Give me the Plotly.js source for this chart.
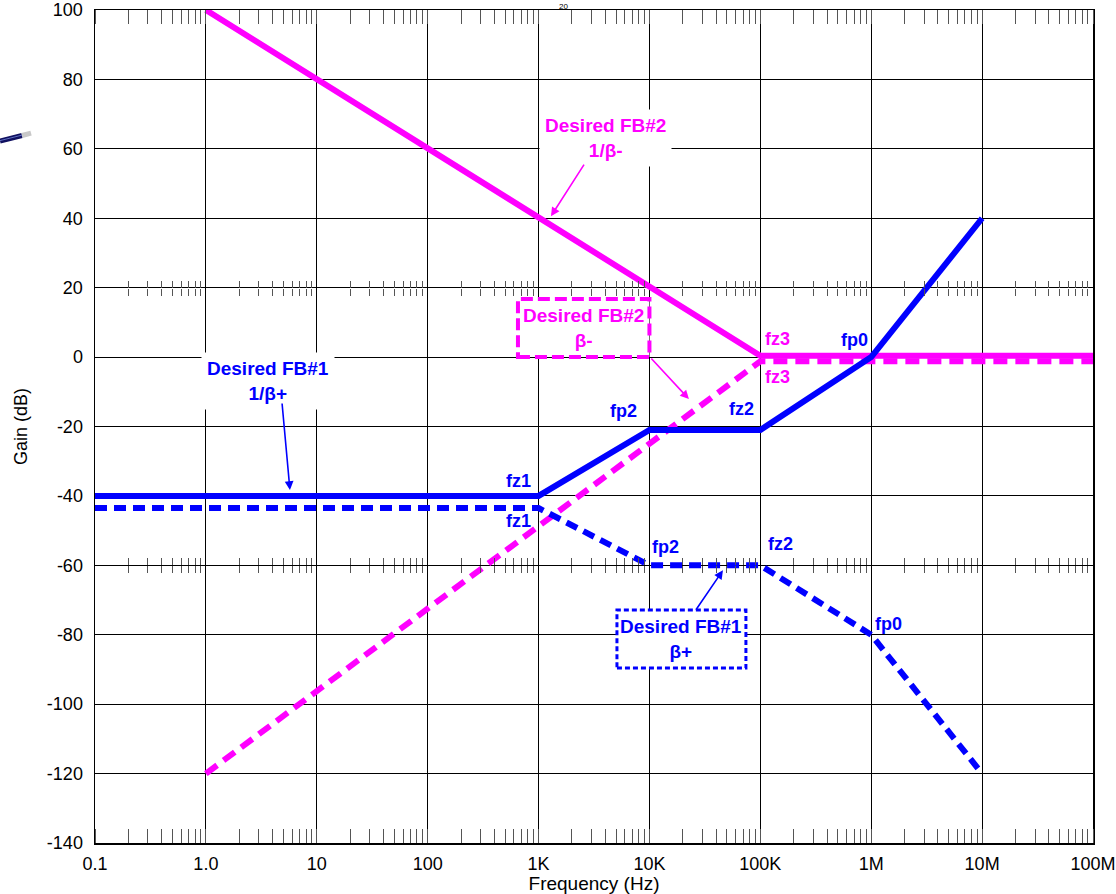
<!DOCTYPE html>
<html>
<head>
<meta charset="utf-8">
<script src="https://cdn.plot.ly/plotly-3.0.1.min.js"></script>
<style>html,body{margin:0;padding:0;background:#fff;}#chart{width:1116px;height:894px;}</style>
</head>
<body>
<div id="chart"></div>
<script>
// ---- data ----
var tickFreqs = [0.1, 1, 10, 100, 1e3, 1e4, 1e5, 1e6, 1e7, 1e8];
var tickLabels = ['0.1', '1.0', '10', '100', '1K', '10K', '100K', '1M', '10M', '100M'];
var gainTicks = [-140, -120, -100, -80, -60, -40, -20, 0, 20, 40, 60, 80, 100];
var gainLabels = ['-140', '-120', '-100', '-80', '-60', '-40', '-20', '0', '20', '40', '60', '80', '100'];

var fb2Freq = [1, 1e5, 1e8];
var fb2InvBeta = [100, 0.4, 0.4];     // Desired FB#2 1/beta-
var fb2Beta = [-120, -1.2, -1.2];     // Desired FB#2 beta-

var fb1Freq = [0.1, 1e3, 1e4, 1e5, 1e6, 1e7];
var fb1InvBeta = [-40, -40, -21, -21, 0, 40];      // Desired FB#1 1/beta+
var fb1Beta = [-43.5, -43.5, -60, -60, -80, -120]; // Desired FB#1 beta+

var MAG = '#FF00FF', BLU = '#0000FF';
var FONT = 'Liberation Sans, Arial, sans-serif';

var traces = [
  {x: fb2Freq, y: fb2InvBeta, mode: 'lines', line: {color: MAG, width: 6}, hoverinfo: 'skip'},
  {x: fb2Freq, y: fb2Beta, mode: 'lines', line: {color: MAG, width: 6, dash: '14px,8px'}, hoverinfo: 'skip'},
  {x: fb1Freq, y: fb1InvBeta, mode: 'lines', line: {color: BLU, width: 6}, hoverinfo: 'skip'},
  {x: fb1Freq, y: fb1Beta, mode: 'lines', line: {color: BLU, width: 6, dash: '12px,7px'}, hoverinfo: 'skip'}
];
// helper traces for the extra tick-only axes (minor tick rows at 20 dB and -60 dB)
['x2', 'x3', 'x4', 'x5'].forEach(function (ax) {
  traces.push({x: [tickFreqs[0], tickFreqs[tickFreqs.length - 1]], y: [gainTicks[0], gainTicks[0]],
    xaxis: ax, yaxis: 'y', mode: 'lines', line: {width: 0, color: 'rgba(0,0,0,0)'}, hoverinfo: 'skip', showlegend: false});
});

var xr = [Math.log10(tickFreqs[0]), Math.log10(tickFreqs[tickFreqs.length - 1])];
function tickAxis(pos, dir) {
  return {type: 'log', range: xr, overlaying: 'x', anchor: 'free', position: pos, side: 'bottom',
    showline: false, showgrid: false, zeroline: false, showticklabels: false, ticks: '', fixedrange: true,
    minor: {ticks: dir, ticklen: 7, tickcolor: '#555', tickwidth: 1, dtick: 'D1', showgrid: false}};
}
var yr = [gainTicks[0], gainTicks[gainTicks.length - 1]];
var p20 = (20 - yr[0]) / (yr[1] - yr[0]);
var pm60 = (-60 - yr[0]) / (yr[1] - yr[0]);

var layout = {
  width: 1116, height: 894,
  margin: {l: 95, r: 23, t: 10, b: 51},
  paper_bgcolor: '#fff', plot_bgcolor: '#fff',
  showlegend: false,
  font: {family: FONT, size: 18, color: '#000'},
  xaxis: {
    type: 'log', range: xr, tickmode: 'array', tickvals: tickFreqs, ticktext: tickLabels,
    showgrid: true, gridcolor: '#000', gridwidth: 1, zeroline: false,
    showline: true, linecolor: '#000', linewidth: 1.5, mirror: 'ticks', ticks: '',
    ticklabelstandoff: 4,
    tickfont: {family: FONT, size: 18, color: '#000'},
    minor: {ticks: 'inside', ticklen: 14, tickcolor: '#555', tickwidth: 1, dtick: 'D1', showgrid: false},
    title: {text: 'Frequency (Hz)', font: {family: FONT, size: 19, color: '#000'}, standoff: 3}
  },
  xaxis2: tickAxis(p20, 'inside'),
  xaxis3: tickAxis(p20, 'outside'),
  xaxis4: tickAxis(pm60, 'inside'),
  xaxis5: tickAxis(pm60, 'outside'),
  yaxis: {
    range: yr, tickmode: 'array', tickvals: gainTicks, ticktext: gainLabels,
    showgrid: true, gridcolor: '#000', gridwidth: 1, zeroline: false,
    showline: true, linecolor: '#000', linewidth: 1.5, mirror: true, ticks: '',
    ticklabelstandoff: 7,
    tickfont: {family: FONT, size: 18, color: '#000'},
    title: {text: 'Gain (dB)', font: {family: FONT, size: 18, color: '#000'}, standoff: 14}
  },
  shapes: [
    {type: 'rect', xref: 'x', yref: 'y', x0: 652, x1: 1e4, y0: 0, y1: 16.7,
      line: {color: MAG, width: 4, dash: '12px,5px'}, fillcolor: '#fff', layer: 'between'},
    {type: 'rect', xref: 'x', yref: 'y', x0: 5093, x1: 74130, y0: -89.6, y1: -72.9,
      line: {color: BLU, width: 3, dash: '5px,3px'}, fillcolor: '#fff', layer: 'between'},
    // small pen graphic at the left edge
    {type: 'line', xref: 'paper', yref: 'paper', x0: -0.0952, y0: 0.8427, x1: -0.0731, y1: 0.8493,
      line: {color: '#101060', width: 5}, layer: 'above'},
    {type: 'line', xref: 'paper', yref: 'paper', x0: -0.0952, y0: 0.8432, x1: -0.0731, y1: 0.8498,
      line: {color: '#6070c0', width: 1}, layer: 'above'},
    {type: 'line', xref: 'paper', yref: 'paper', x0: -0.0731, y0: 0.8493, x1: -0.0641, y1: 0.8523,
      line: {color: '#c8c8c8', width: 5}, layer: 'above'}
  ],
  annotations: []
};

function lbl(text, xl, y, color, size) {
  return {x: xl, y: y, xref: 'x', yref: 'y', text: '<b>' + text + '</b>', showarrow: false,
    font: {family: FONT, size: size || 18, color: color}, xanchor: 'center', yanchor: 'middle'};
}
function box(text, xl, y, color, bg) {
  var a = lbl(text, xl, y, color, 19);
  if (bg) { a.bgcolor = '#fff'; a.borderpad = 5; }
  return a;
}
function arrow(xl, y, ax, ay, color) {
  return {x: xl, y: y, xref: 'x', yref: 'y', text: '', showarrow: true, ax: ax, ay: ay,
    arrowcolor: color, arrowwidth: 1.6, arrowhead: 2, arrowsize: 1.1, standoff: 0, startstandoff: 0,
    font: {size: 1}};
}
layout.annotations = [
  box('Desired FB#2<br>1/β-', 3.608, 63.1, MAG, true),
  box('Desired FB#2<br>β-', 3.409, 8.4, MAG, false),
  box('Desired FB#1<br>1/β+', 0.560, -6.9, BLU, true),
  box('Desired FB#1<br>β+', 4.284, -81.3, BLU, false),
  arrow(3.112, 40.6, 34, -53, MAG),
  arrow(4.356, -12.1, -39, -42, MAG),
  arrow(0.758, -38.3, -8, -88, BLU),
  arrow(4.663, -61.4, -28, 41, BLU),
  lbl('fz1', 2.823, -35.7, BLU),
  lbl('fz1', 2.823, -47.3, BLU),
  lbl('fp2', 3.770, -15.6, BLU),
  lbl('fp2', 4.149, -54.6, BLU),
  lbl('fz2', 4.834, -15.0, BLU),
  lbl('fz2', 5.186, -53.9, BLU),
  lbl('fz3', 5.159, 5.2, MAG),
  lbl('fz3', 5.159, -5.8, MAG),
  lbl('fp0', 5.853, 4.9, BLU),
  lbl('fp0', 6.160, -76.9, BLU),
  {x: 0.469, y: 1.0048, xref: 'paper', yref: 'paper', text: '20', showarrow: false,
    font: {family: FONT, size: 8, color: '#000'}, xanchor: 'center', yanchor: 'middle'}
];

Plotly.newPlot('chart', traces, layout, {staticPlot: true, displayModeBar: false});
</script>
</body>
</html>
